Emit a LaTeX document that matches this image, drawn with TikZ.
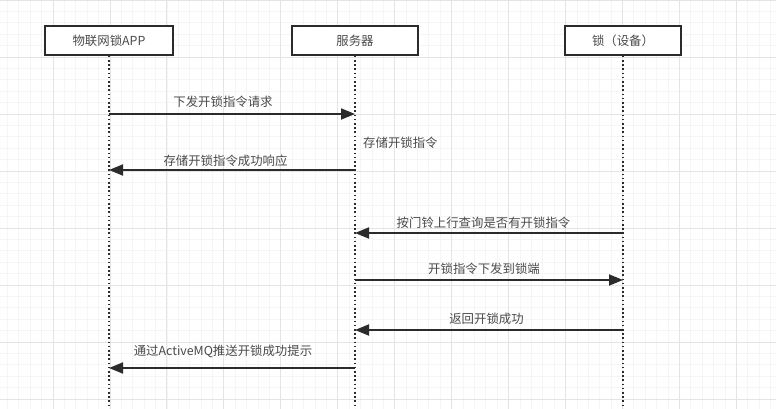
\documentclass[tikz,border=0pt]{standalone}
\usepackage{fontspec}
\setmainfont{Noto Sans CJK SC}
\usetikzlibrary{arrows.meta}
\definecolor{gridminor}{HTML}{F5F5F5}
\definecolor{gridmajor}{HTML}{E4E4E4}
\definecolor{ink}{HTML}{2B2B2B}
\definecolor{txt}{HTML}{4A4A4A}
\tikzset{
  actor/.style={draw=ink,line width=1.8pt,fill=white,minimum height=29pt,inner sep=0pt,text=txt,font=\fontsize{12.4pt}{14pt}\selectfont},
  life/.style={draw=ink,line width=1.8pt,dash pattern=on 1.6pt off 2.6pt},
  msg/.style={draw=ink,line width=1.8pt,-{Triangle[length=14pt,width=11pt]}},
  lbl/.style={text=txt,inner sep=0pt,font=\fontsize{12.4pt}{14pt}\selectfont}
}
\begin{document}
\begin{tikzpicture}[x=1pt,y=-1pt]
\useasboundingbox (0,0) rectangle (776,409);
\fill[white] (0,0) rectangle (776,409);
% grid
\foreach \k in {-4,...,63}{
  \draw[gridminor,line width=.8pt] ({53+\k*11.39},0) -- ({53+\k*11.39},409);
}
\foreach \k in {0,...,36}{
  \draw[gridminor,line width=.8pt] (0,{\k*11.4}) -- (776,{\k*11.4});
}
\foreach \k in {0,...,12}{
  \draw[gridmajor,line width=.9pt] ({53+\k*56.95},0) -- ({53+\k*56.95},409);
}
\foreach \k in {0,...,7}{
  \draw[gridmajor,line width=.9pt] (0,{\k*57}) -- (776,{\k*57});
}
% actors
\node[actor,minimum width=128pt] (app) at (109,40.5) {物联网锁APP};
\node[actor,minimum width=126pt] (srv) at (355,40.5) {服务器};
\node[actor,minimum width=116pt] (lock) at (623,40.5) {锁（设备）};
% lifeline ends
\coordinate (append) at (app.south |- 0,409);
\coordinate (srvend) at (srv.south |- 0,409);
\coordinate (lockend) at (lock.south |- 0,409);
\draw[life] (app.south) -- (append);
\draw[life] (srv.south) -- (srvend);
\draw[life] (lock.south) -- (lockend);
% anchors on lifelines
\foreach \y/\n in {114/a,170/b,233/c,280/d,330/e,368/f}{
  \coordinate (app\n) at (app.south |- 0,\y);
  \coordinate (srv\n) at (srv.south |- 0,\y);
  \coordinate (lock\n) at (lock.south |- 0,\y);
}
% messages
\draw[msg] (appa) -- (srva);
\draw[msg] (srvb) -- (appb);
\draw[msg] (lockc) -- (srvc);
\draw[msg] (srvd) -- (lockd);
\draw[msg] (locke) -- (srve);
\draw[msg] (srvf) -- (appf);
% labels
\node[lbl] (t1) at (223,101.5) {下发开锁指令请求};
\node[lbl,anchor=west] (t2) at (363,142.5) {存储开锁指令};
\node[lbl] (t3) at (225.5,160.5) {存储开锁指令成功响应};
\node[lbl] (t4) at (483.5,222.5) {按门铃上行查询是否有开锁指令};
\node[lbl] (t5) at (484,268.5) {开锁指令下发到锁端};
\node[lbl] (t6) at (486.5,318.5) {返回开锁成功};
\node[lbl] (t7) at (223,351.5) {通过ActiveMQ推送开锁成功提示};
\end{tikzpicture}
\end{document}
